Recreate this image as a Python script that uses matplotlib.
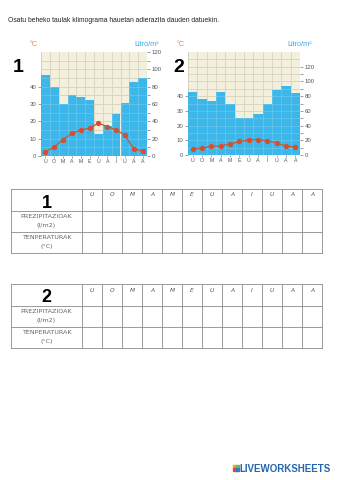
import matplotlib
matplotlib.use("Agg")
import matplotlib.pyplot as plt
from matplotlib.patches import Rectangle

plt.rcParams["font.family"] = ["Liberation Sans", "DejaVu Sans"]

# --- data ---------------------------------------------------------------
months = ["U", "O", "M", "A", "M", "E", "U", "A", "I", "U", "A", "A"]
precip1 = [94, 80, 60, 70, 68, 65, 25, 35, 49, 61, 85, 90]
temp1 = [2.5, 5.2, 9.5, 13, 15, 16, 19, 17, 15, 12, 4, 3]
precip2 = [85, 76, 73, 85, 70, 50, 50, 56, 70, 88, 94, 84]
temp2 = [4, 4.7, 5.8, 6.3, 7.4, 9.2, 10.1, 10.5, 9.6, 8.3, 6, 5.4]
row_labels = ["PREZIPITAZIOAK\n(l/m2)", "TENPERATURAK\n(°C)"]

W, H = 339, 480
BLUE = "#3db7ea"
BEIGE = "#f3f0dd"
RED = "#d4502e"
ORANGE = "#e8835c"
LBLUE = "#3aa9de"

fig = plt.figure(figsize=(W / 100, H / 100), dpi=100)


def box(x0, y0, x1, y1):
    return [x0 / W, 1 - y1 / H, (x1 - x0) / W, (y1 - y0) / H]


def climograph(rect, precip, temp, pmax, num, px):
    ax = fig.add_axes(box(*rect))
    tax = ax.twinx()   # twinx resets ax ticks to the left, so do it first
    ax.set_facecolor(BEIGE)
    x = list(range(len(months)))
    # grid under the bars
    for i in range(len(months) + 1):
        ax.axvline(i - 0.5, color="#c9c5ae", lw=0.5, zorder=0)
    for v in range(10, pmax, 10):
        ax.axhline(v, color="#c9c5ae", lw=0.5, zorder=0)
    ax.bar(x, precip, width=1.0, color=BLUE, zorder=1)
    # faint grid over the bars
    for i in range(1, len(months)):
        ax.axvline(i - 0.5, color="white", lw=0.4, alpha=0.25, zorder=2)
    for v in range(10, pmax, 10):
        ax.axhline(v, color="white", lw=0.4, alpha=0.25, zorder=2)
    ax.set_xlim(-0.5, len(months) - 0.5)
    ax.set_ylim(0, pmax)
    ax.yaxis.tick_right()
    ax.set_yticks(range(0, 121, 20))
    ax.set_yticks(range(10, 121, 20), minor=True)
    ax.tick_params(axis="y", which="both", labelsize=4.3, colors="#555555",
                   length=2, width=0.4, pad=1.5, left=False, labelleft=False,
                   right=True, labelright=True)
    ax.set_xticks(x)
    ax.set_xticklabels(months)
    ax.tick_params(axis="x", labelsize=3.8, colors="#555555", length=1.5,
                   width=0.4, pad=1)
    for s in ax.spines.values():
        s.set_visible(False)

    tax.plot(x, temp, color=RED, lw=0.9, marker="o", ms=2.8, zorder=5)
    tax.set_ylim(0, pmax / 2)
    tax.set_yticks(range(0, 41, 10))
    tax.tick_params(axis="y", labelsize=4.3, colors="#555555", length=2,
                    width=0.4, pad=1.5, left=True, labelleft=True,
                    right=False, labelright=False)
    for s in tax.spines.values():
        s.set_visible(False)

    x0, y0, x1, y1 = rect
    fig.text((x0 - 11) / W, 1 - 44 / H, "°C", color=ORANGE, fontsize=5.2,
             ha="left", va="center")
    fig.text((x1 + 12) / W, 1 - 44 / H, "Litro/m²", color=LBLUE,
             fontsize=5.2, ha="right", va="center")
    fig.text(px / W, 1 - 68 / H, num, fontsize=14, fontweight="bold",
             ha="center", va="center")


climograph((41, 52, 147, 156), precip1, temp1, 120, "1", 18)
climograph((188, 52, 300, 155), precip2, temp2, 140, "2", 179)

# --- page overlay: title, tables, logo ----------------------------------
pg = fig.add_axes([0, 0, 1, 1], zorder=-1)
pg.set_xlim(0, W)
pg.set_ylim(H, 0)
pg.axis("off")

pg.text(8, 21, "Osatu beheko taulak klimograma hauetan adierazita dauden datuekin.",
        fontsize=4.9, color="#222222", va="center", ha="left")


def table(top, num):
    x0, xs, x1 = 11, 82, 322
    rows = [top, top + 22, top + 43, top + 64]
    lc = "#8a8a8a"
    for y in rows:
        pg.plot([x0, x1], [y, y], color=lc, lw=0.6)
    pg.plot([x0, x0], [rows[0], rows[-1]], color=lc, lw=0.6)
    cw = (x1 - xs) / len(months)
    for i in range(len(months) + 1):
        pg.plot([xs + i * cw] * 2, [rows[0], rows[-1]], color=lc, lw=0.6)
    for i, m in enumerate(months):
        pg.text(xs + (i + 0.5) * cw, top + 6, m, fontsize=4.2, color="#555555",
                ha="center", va="center", style="italic",
                family=["DejaVu Sans"])
    pg.text((x0 + xs) / 2, top + 14, num, fontsize=13, fontweight="bold",
            ha="center", va="center")
    for r, lab in enumerate(row_labels):
        a, b = lab.split("\n")
        pg.text((x0 + xs) / 2, rows[r + 1] + 5.5, a, fontsize=4.6,
                color="#666666", ha="center", va="center", family=["DejaVu Sans"])
        pg.text((x0 + xs) / 2, rows[r + 1] + 14.5, b, fontsize=4.6,
                color="#666666", ha="center", va="center", family=["DejaVu Sans"])


table(189, "1")
table(284, "2")

# liveworksheets logo
for (dx, dy), c in zip([(0, 0), (3, 0), (0, 3), (3, 3)],
                       ["#f2a22c", "#6abf4b", "#e2483d", "#2f7fc1"]):
    pg.add_patch(Rectangle((233 + dx, 465 + dy), 2.6, 2.6, color=c))
pg.text(239.5, 469, "LIVEWORKSHEETS", fontsize=7, fontweight="bold",
        color="#2466b0", ha="left", va="center")

fig.savefig("out.png", dpi=100)
